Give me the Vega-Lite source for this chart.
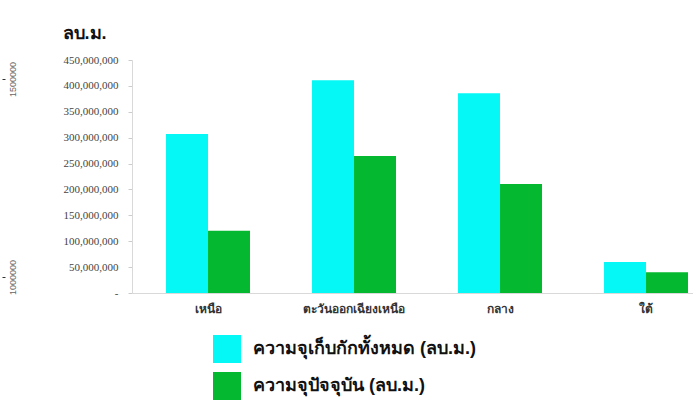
{
  "$schema": "https://vega.github.io/schema/vega-lite/v6.json",
  "autosize": {"type": "none"},
  "width": 561,
  "height": 233,
  "padding": {"left": 132, "top": 60, "right": 0, "bottom": 112},
  "background": "white",
  "config": {"view": {"stroke": null}},
  "datasets": {
    "bars": [
      {"region": "เหนือ", "series": "ความจุเก็บกักทั้งหมด (ลบ.ม.)", "value": 307000000},
      {"region": "เหนือ", "series": "ความจุปัจจุบัน (ลบ.ม.)", "value": 120000000},
      {"region": "ตะวันออกเฉียงเหนือ", "series": "ความจุเก็บกักทั้งหมด (ลบ.ม.)", "value": 411000000},
      {"region": "ตะวันออกเฉียงเหนือ", "series": "ความจุปัจจุบัน (ลบ.ม.)", "value": 264500000},
      {"region": "กลาง", "series": "ความจุเก็บกักทั้งหมด (ลบ.ม.)", "value": 386000000},
      {"region": "กลาง", "series": "ความจุปัจจุบัน (ลบ.ม.)", "value": 210500000},
      {"region": "ใต้", "series": "ความจุเก็บกักทั้งหมด (ลบ.ม.)", "value": 60000000},
      {"region": "ใต้", "series": "ความจุปัจจุบัน (ลบ.ม.)", "value": 40000000}
    ],
    "ghost": [
      {"v": 1000000},
      {"v": 1500000}
    ]
  },
  "layer": [
    {
      "data": {"name": "bars"},
      "mark": {"type": "bar"},
      "encoding": {
        "x": {
          "field": "region",
          "type": "nominal",
          "sort": null,
          "scale": {"paddingInner": 0.4247, "paddingOuter": 0.1336, "align": 0.872},
          "axis": {
            "title": null,
            "labelAngle": 0,
            "ticks": false,
            "domainColor": "#d9d9d9",
            "labelFont": "DejaVu Serif",
            "labelFontSize": 12,
            "labelFontWeight": "bold",
            "labelColor": "#333333",
            "labelPadding": 10
          }
        },
        "xOffset": {"field": "series", "type": "nominal", "sort": null, "scale": {"paddingInner": 0, "paddingOuter": 0}},
        "y": {
          "field": "value",
          "type": "quantitative",
          "scale": {"domain": [0, 450000000], "nice": false},
          "axis": {
            "title": "ลบ.ม.",
            "titleAngle": 0,
            "titleAlign": "left",
            "titleBaseline": "middle",
            "titleX": -70,
            "titleY": -27,
            "titleFontSize": 18,
            "titleFontWeight": "bold",
            "titleColor": "#111111",
            "values": [0, 50000000, 100000000, 150000000, 200000000, 250000000, 300000000, 350000000, 400000000, 450000000],
            "labelExpr": "datum.value == 0 ? '-\u00a0\u00a0\u00a0\u00a0\u00a0' : format(datum.value, ',')",
            "labelFont": "Liberation Serif",
            "labelFontSize": 11,
            "labelColor": "#444444",
            "grid": false,
            "domainColor": "#d9d9d9",
            "tickColor": "#cccccc",
            "tickSize": 4,
            "labelPadding": 10
          }
        },
        "color": {
          "field": "series",
          "type": "nominal",
          "sort": null,
          "scale": {"range": ["#05F8F6", "#04B92F"]},
          "legend": {
            "title": null,
            "orient": "none",
            "legendX": 81,
            "legendY": 275,
            "direction": "vertical",
            "padding": 0,
            "symbolType": "square",
            "symbolSize": 784,
            "symbolStrokeWidth": 0,
            "symbolOpacity": 1,
            "labelFontSize": 18,
            "labelFontWeight": "bold",
            "labelColor": "#111111",
            "labelOffset": 12,
            "rowPadding": 9,
            "labelLimit": 400
          }
        }
      }
    },
    {
      "data": {"name": "ghost"},
      "mark": {"type": "tick", "opacity": 0},
      "encoding": {
        "y": {
          "field": "v",
          "type": "quantitative",
          "scale": {"domain": [959596, 1547980], "nice": false, "zero": false},
          "axis": {
            "orient": "left",
            "offset": 127,
            "title": null,
            "values": [1000000, 1500000],
            "format": "d",
            "domain": false,
            "grid": false,
            "tickSize": 3,
            "tickColor": "#333333",
            "labelAngle": 270,
            "labelAlign": "center",
            "labelBaseline": "middle",
            "labelPadding": -10,
            "labelFont": "Liberation Sans",
            "labelFontSize": 9,
            "labelColor": "#666666"
          }
        }
      }
    }
  ],
  "resolve": {"scale": {"y": "independent"}}
}
